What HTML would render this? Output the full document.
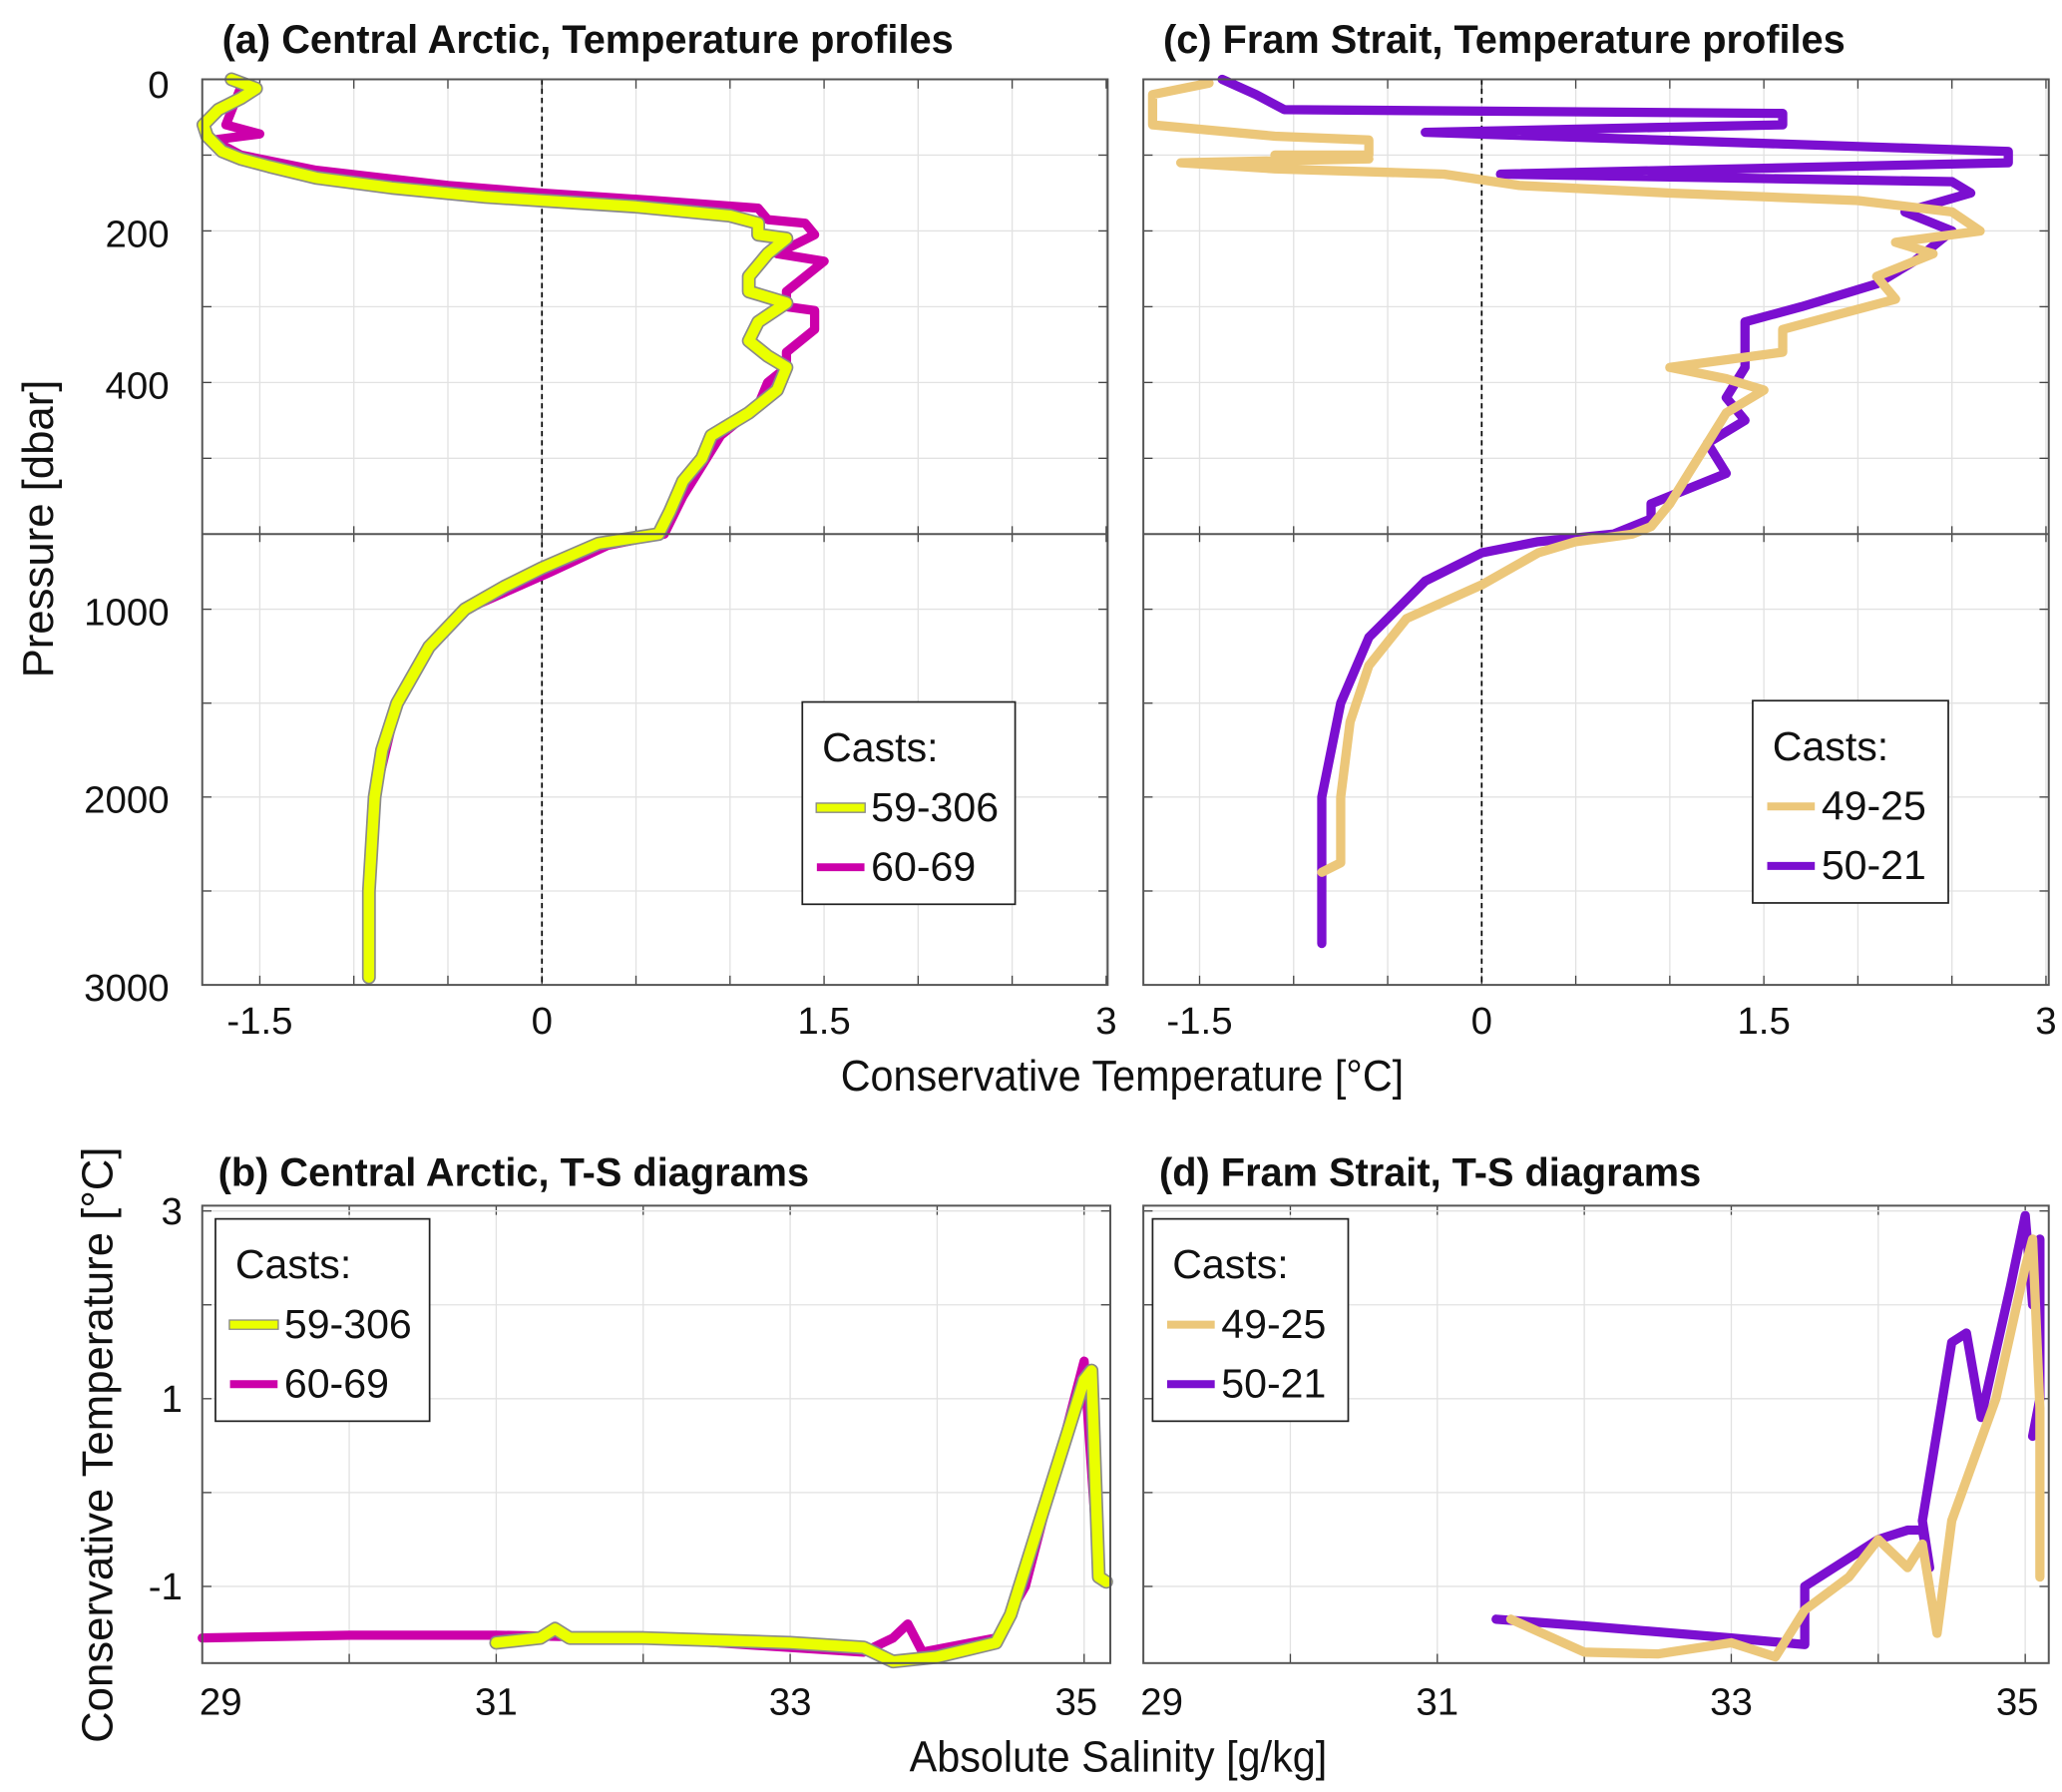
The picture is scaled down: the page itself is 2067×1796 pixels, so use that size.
<!DOCTYPE html>
<html><head><meta charset="utf-8"><style>
html,body{margin:0;padding:0;background:#fff}
svg{display:block}
text{font-family:"Liberation Sans Narrow","Liberation Sans",sans-serif;fill:#111}
</style></head><body>
<svg id="fig" width="2067" height="1796" viewBox="0 0 1560 1355.5" xmlns="http://www.w3.org/2000/svg"></svg>
<script>
// ---- data ----
const profA_59306 = [[-1.65,0],[-1.52,12],[-1.6,25],[-1.72,40],[-1.8,60],[-1.78,75],[-1.7,95],[-1.6,105],[-1.45,115],[-1.2,130],[-0.8,143],[-0.3,155],[0,160],[0.5,168],[1.0,180],[1.15,190],[1.15,205],[1.3,210],[1.2,230],[1.1,260],[1.1,280],[1.3,295],[1.15,320],[1.1,345],[1.2,365],[1.3,380],[1.25,410],[1.1,440],[0.9,470],[0.85,500],[0.75,530],[0.68,570],[0.62,600],[0.3,650],[0,780],[-0.2,880],[-0.41,1000],[-0.6,1200],[-0.77,1500],[-0.85,1750],[-0.89,2000],[-0.92,2500],[-0.92,2960]];
const profA_6069 = [[-1.6,10],[-1.68,60],[-1.5,72],[-1.75,80],[-1.6,100],[-1.2,120],[-0.5,140],[0,150],[0.6,160],[1.15,170],[1.2,185],[1.4,190],[1.45,205],[1.25,230],[1.5,240],[1.3,280],[1.3,300],[1.45,305],[1.45,330],[1.3,360],[1.3,380],[1.2,400],[1.15,430],[0.95,470],[0.85,510],[0.75,550],[0.65,600],[0.35,660],[0.05,800],[-0.4,1000],[-0.6,1200],[-0.77,1500],[-0.89,2000],[-0.92,2500]];
const profC_4925 = [[-1.45,5],[-1.75,20],[-1.75,60],[-1.1,75],[-0.6,80],[-0.6,100],[-1.1,100],[-0.6,105],[-1.6,110],[-1.1,118],[-0.2,125],[0.2,140],[1.0,150],[2.0,160],[2.5,175],[2.65,200],[2.2,215],[2.4,230],[2.1,260],[2.2,290],[1.9,310],[1.6,330],[1.6,360],[1.0,380],[1.3,395],[1.5,410],[1.3,440],[1.2,480],[1.1,520],[1.0,560],[0.9,590],[0.8,600],[0.5,640],[0.3,700],[0.0,870],[-0.4,1050],[-0.6,1300],[-0.7,1600],[-0.75,2000],[-0.75,2350],[-0.85,2400]];
const profC_5021 = [[-1.38,0],[-1.2,20],[-1.05,40],[1.6,45],[1.6,60],[-0.3,70],[2.8,95],[2.8,110],[0.1,125],[2.5,135],[2.6,150],[2.25,175],[2.5,200],[2.3,240],[2.1,270],[1.7,300],[1.4,320],[1.4,380],[1.3,420],[1.4,450],[1.2,480],[1.3,520],[0.9,560],[0.9,580],[0.7,600],[0.3,640],[0,700],[-0.3,850],[-0.6,1150],[-0.75,1500],[-0.85,2000],[-0.85,2500],[-0.85,2780]];
const tsB_59306 = [[31,-1.6],[31.3,-1.55],[31.4,-1.45],[31.5,-1.55],[32,-1.55],[33,-1.6],[33.5,-1.65],[33.7,-1.8],[34,-1.75],[34.4,-1.6],[34.5,-1.3],[34.7,-0.3],[35,1.2],[35.05,1.3],[35.1,-0.9],[35.15,-0.95]];
const tsB_6069 = [[29,-1.55],[30,-1.52],[31,-1.52],[32,-1.55],[33,-1.65],[33.5,-1.7],[33.7,-1.55],[33.8,-1.4],[33.9,-1.7],[34.4,-1.55],[34.6,-1.0],[35,1.4],[35.1,-0.9]];
const tsD_5021 = [[31.4,-1.35],[32,-1.42],[33,-1.55],[33.5,-1.62],[33.5,-1.0],[33.7,-0.8],[34,-0.5],[34.2,-0.4],[34.3,-0.4],[34.35,-0.8],[34.3,-0.3],[34.5,1.6],[34.6,1.7],[34.7,0.8],[34.9,2.2],[35,2.95],[35.05,2.0],[35.1,2.7],[35.1,1.0],[35.05,0.6]];
const tsD_4925 = [[31.5,-1.35],[32,-1.7],[32.5,-1.72],[33,-1.6],[33.3,-1.75],[33.5,-1.25],[33.8,-0.9],[34,-0.5],[34.2,-0.8],[34.3,-0.55],[34.4,-1.5],[34.5,-0.3],[34.8,1.0],[35,2.4],[35.05,2.7],[35.1,0.9],[35.1,-0.9]];
const tempTicks = [-1.5,0,1.5,3];
const presTicks = [0,200,400,1000,2000,3000];
const salTicks = [29,31,33,35];
const ctTicks = [3,1,-1];

const NS="http://www.w3.org/2000/svg";
const svg=document.getElementById('fig');
function el(tag,attrs,parent){const e=document.createElementNS(NS,tag);for(const k in attrs)e.setAttribute(k,attrs[k]);(parent||svg).appendChild(e);return e;}
function txt(s,x,y,size,anchor,weight,parent){const t=el('text',{x:x,y:y,'font-size':size,'text-anchor':anchor||'middle','font-weight':weight||'normal'},parent);t.textContent=s;return t;}

const PT=60, PB=404, PE=745;
function yP(p){return p<=600?PT+p*(PB-PT)/600:PB+(p-600)*(PE-PB)/2400;}
function xTa(t){return 410+t*142.3;}
function xTc(t){return 1121+t*142.3;}
function xSb(s){return 153+(s-29)*111.2;}
function xSd(s){return 865+(s-29)*111.2;}
function yT(t){return 1058-(t-1)*71;}

function frame(name){const g=el('g',{});return g;}
function path(g,pts,fx,fy,color,w,outline,name){
  const d=pts.map((p,i)=>(i?'L':'M')+fx(p[0]).toFixed(1)+' '+fy(p[1]).toFixed(1)).join(' ');
  if(outline){const o=el('path',{d:d,fill:'none',stroke:'#8a8a8a','stroke-width':w+2.5,'stroke-linejoin':'round','stroke-linecap':'round'},g);}
  const p=el('path',{d:d,fill:'none',stroke:color,'stroke-width':w,'stroke-linejoin':'round','stroke-linecap':'round'},g);
  
  
}

function profilePanel(name,x0,x1,fx,title,series){
  const g=frame(name);
  for(let t=-1.5;t<=3.01;t+=0.5){const x=fx(t);el('line',{x1:x,x2:x,y1:PT,y2:PE,stroke:'#e2e2e2','stroke-width':1},g);
    el('line',{x1:x,x2:x,y1:PB-6,y2:PB+6,stroke:'#444','stroke-width':1},g);el('line',{x1:x,x2:x,y1:PE-7,y2:PE,stroke:'#444'},g);el('line',{x1:x,x2:x,y1:PT,y2:PT+7,stroke:'#444'},g);}
  [100,200,300,400,500,1000,1500,2000,2500].forEach(p=>{const y=yP(p);el('line',{x1:x0,x2:x1,y1:y,y2:y,stroke:'#e2e2e2'},g);el('line',{x1:x0,x2:x0+7,y1:y,y2:y,stroke:'#444'},g);el('line',{x1:x1-7,x2:x1,y1:y,y2:y,stroke:'#444'},g);});
  const z=el('line',{x1:fx(0),x2:fx(0),y1:PT,y2:PE,stroke:'#000','stroke-width':1.3,'stroke-dasharray':'4,3'},g);
  
  series.forEach(s=>path(g,s.d,fx,yP,s.c,s.w,s.o,s.n));
  el('rect',{x:x0,y:PT,width:x1-x0,height:PE-PT,fill:'none',stroke:'#555','stroke-width':1.5},g);
  el('line',{x1:x0,x2:x1,y1:PB,y2:PB,stroke:'#555','stroke-width':1.5},g);
  const tl=txt(title,x0+15,40,30,'start','bold',g);
  tempTicks.forEach(t=>{const l=txt(String(t),fx(t),782,29,'middle','normal',g);});
  return g;
}
function tsPanel(name,x0,x1,fx,title){
  const g=frame(name);const y0=912,y1=1258;
  for(let s=29;s<=35;s++){const x=fx(s);el('line',{x1:x,x2:x,y1:y0,y2:y1,stroke:'#e2e2e2'},g);el('line',{x1:x,x2:x,y1:y1-7,y2:y1,stroke:'#444'},g);el('line',{x1:x,x2:x,y1:y0,y2:y0+7,stroke:'#444'},g);}
  for(let t=3;t>=-1.5;t-=1){const y=yT(t);el('line',{x1:x0,x2:x1,y1:y,y2:y,stroke:'#e2e2e2'},g);el('line',{x1:x0,x2:x0+7,y1:y,y2:y,stroke:'#444'},g);el('line',{x1:x1-7,x2:x1,y1:y,y2:y,stroke:'#444'},g);}
  const tl=txt(title,x0+12,897,30,'start','bold',g);
  salTicks.forEach(s=>{const l=txt(String(s),fx(s)+(s==29?14:0)-(s==35?6:0),1297,29,'middle','normal',g);});
  return g;
}
function legend(g,x,y,w,items){
  const lg=el('g',{},g);
  el('rect',{x:x,y:y,width:w,height:153,fill:'#fff',stroke:'#222','stroke-width':1.3},lg);
  txt('Casts:',x+15,y+45,31,'start','normal',lg);
  items.forEach((it,i)=>{const yy=y+90+i*45;const e=el('g',{},lg);
    if(it.o)el('line',{x1:x+10,x2:x+48,y1:yy-10,y2:yy-10,stroke:'#888','stroke-width':8},e);
    el('line',{x1:x+11,x2:x+47,y1:yy-10,y2:yy-10,stroke:it.c,'stroke-width':6},e);
    txt(it.n,x+52,yy,31,'start','normal',e);});
}
const Y='#eaff00',M='#cc00aa',O='#ecc77a',P='#7b0fd0';
const ga=profilePanel('panel-a',153,838,xTa,'(a) Central Arctic, Temperature profiles',[{d:profA_6069,c:M,w:7,n:'line-60-69'},{d:profA_59306,c:Y,w:8,o:true,n:'line-59-306'}]);
legend(ga,607,531,161,[{n:'59-306',c:Y,o:true},{n:'60-69',c:M}]);
const gc=profilePanel('panel-c',865,1550,xTc,'(c) Fram Strait, Temperature profiles',[{d:profC_5021,c:P,w:7,n:'line-50-21'},{d:profC_4925,c:O,w:7,n:'line-49-25'}]);
legend(gc,1326,530,148,[{n:'49-25',c:O},{n:'50-21',c:P}]);
presTicks.forEach(p=>{const l=txt(String(p),128,yP(p)+12+(p==0?2:0),29,'end');});
const gb=tsPanel('panel-b',153,840,xSb,'(b) Central Arctic, T-S diagrams');
path(gb,tsB_6069,xSb,yT,M,7,false,'ts-60-69');
path(gb,tsB_59306,xSb,yT,Y,8,true,'ts-59-306');
el('rect',{x:153,y:912,width:687,height:346,fill:'none',stroke:'#555','stroke-width':1.5},gb);
legend(gb,163,922,162,[{n:'59-306',c:Y,o:true},{n:'60-69',c:M}]);
const gd=tsPanel('panel-d',865,1550,xSd,'(d) Fram Strait, T-S diagrams');
path(gd,tsD_5021,xSd,yT,P,7,false,'ts-50-21');
path(gd,tsD_4925,xSd,yT,O,7,false,'ts-49-25');
el('rect',{x:865,y:912,width:685,height:346,fill:'none',stroke:'#555','stroke-width':1.5},gd);
legend(gd,872,922,148,[{n:'49-25',c:O},{n:'50-21',c:P}]);
ctTicks.forEach(t=>{const l=txt(String(t),138,yT(t)+10,29,'end');});
let a1=txt('Conservative Temperature [°C]',849,825,33);a1.setAttribute('textLength','426');a1.setAttribute('lengthAdjust','spacingAndGlyphs');

let a2=txt('Absolute Salinity [g/kg]',846,1340,33);a2.setAttribute('textLength','316');a2.setAttribute('lengthAdjust','spacingAndGlyphs');

let a3=txt('Pressure [dbar]',0,0,33);a3.setAttribute('transform','translate(40,400) rotate(-90)');
let a4=txt('Conservative Temperature [°C]',0,0,33);a4.setAttribute('transform','translate(85,1093) rotate(-90)');
</script>
</body></html>
